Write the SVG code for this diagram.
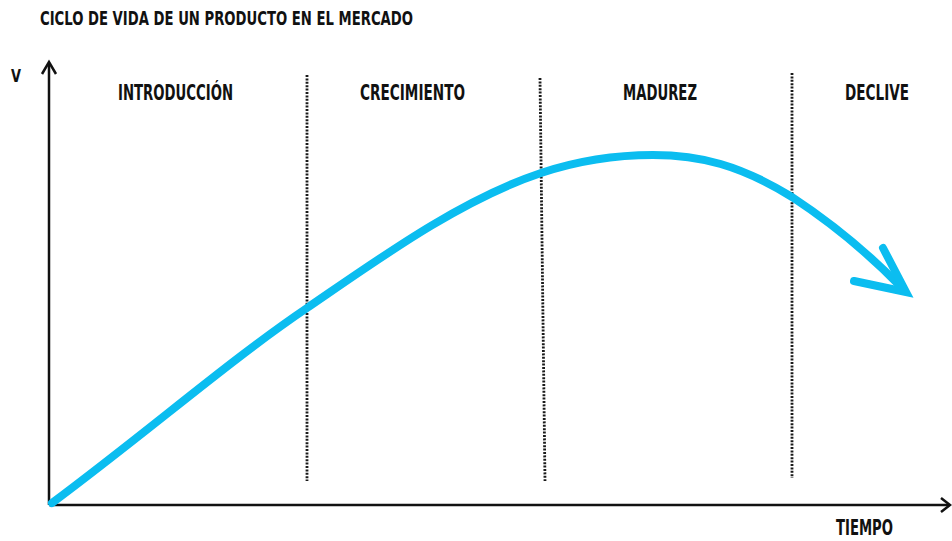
<svg xmlns="http://www.w3.org/2000/svg" width="952" height="541" viewBox="0 0 952 541">
<style>
.t{font-family:"DejaVu Sans Condensed","DejaVu Sans","Liberation Sans",sans-serif;font-weight:bold;fill:#111;}
.ax{stroke:#111;stroke-width:2.5;fill:none;}
.dot{stroke:#1a1a1a;stroke-width:2.8;stroke-dasharray:2 1.4;fill:none;}
.cv{stroke:#0bbdf0;stroke-width:8;fill:none;stroke-linecap:round;}
</style>
<rect width="952" height="541" fill="#fff"/>
<text id="title" class="t" x="40" y="25" font-size="19" textLength="373" lengthAdjust="spacingAndGlyphs">CICLO DE VIDA DE UN PRODUCTO EN EL MERCADO</text>
<g id="axes">
<path class="ax" d="M49,505 V63"/>
<path class="ax" d="M42,74 L49,62 L56,74"/>
<path class="ax" d="M49,505 H949"/>
<path class="ax" d="M941,498 L950,505 L941,512"/>
<text class="t" x="11" y="82" font-size="17" textLength="10" lengthAdjust="spacingAndGlyphs">V</text>
<text class="t" x="836" y="535" font-size="21" textLength="57" lengthAdjust="spacingAndGlyphs">TIEMPO</text>
</g>
<g id="dividers">
<path class="dot" d="M307,75 V481"/>
<path class="dot" d="M540,78 L545,481"/>
<path class="dot" d="M792,73 V478"/>
</g>
<g id="stage-introduccion"><text class="t" x="118" y="100" font-size="22" textLength="115" lengthAdjust="spacingAndGlyphs">INTRODUCCIÓN</text></g>
<g id="stage-crecimiento"><text class="t" x="360" y="100" font-size="22" textLength="105" lengthAdjust="spacingAndGlyphs">CRECIMIENTO</text></g>
<g id="stage-madurez"><text class="t" x="623" y="100" font-size="22" textLength="74" lengthAdjust="spacingAndGlyphs">MADUREZ</text></g>
<g id="stage-declive"><text class="t" x="845" y="100" font-size="22" textLength="64" lengthAdjust="spacingAndGlyphs">DECLIVE</text></g>
<g id="connectors">
<path class="cv" d="M52,503 C150,430 230,360 307,308 C380,258 460,200 541,173 C580,160 620,155 653,155 C700,155 740,165 792,197 C830,222 870,255 901,287"/>
<path class="cv" d="M883,248 L906,292 L854,281" stroke-linecap="butt" stroke-linejoin="miter"/>
</g>
</svg>
